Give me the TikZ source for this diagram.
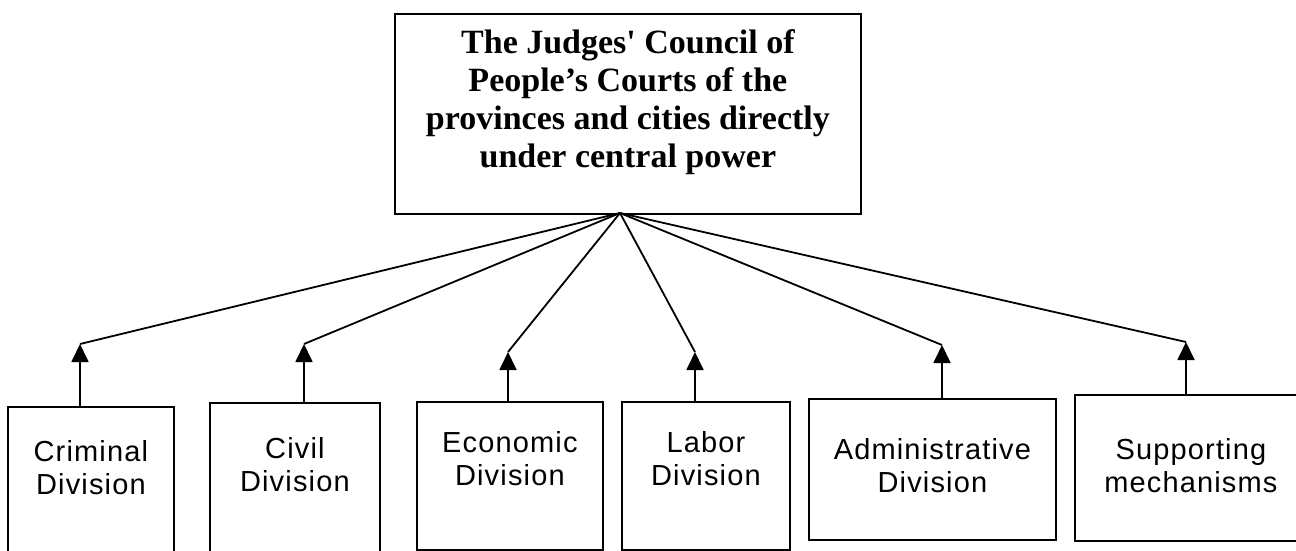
\documentclass[tikz,border=0pt]{standalone}
\usepackage{fontspec}
\setmainfont{Liberation Serif}
\newfontfamily\divfont[LetterSpace=4]{Liberation Sans}
\usetikzlibrary{arrows.meta,positioning}

\begin{document}
\begin{tikzpicture}
  [x=1pt,y=-1pt,line width=1.8pt,
   box/.style={draw,anchor=north west,inner sep=0pt},
   headtext/.style={font=\fontsize{34}{38}\selectfont\bfseries,align=center,inner sep=0pt},
   divtext/.style={font=\divfont\fontsize{29}{33}\selectfont,align=center,inner sep=0pt},
   up/.style={-{Triangle[length=18pt,width=17pt]}}]
  \useasboundingbox (0,0) rectangle (1296,551);

  % council on top
  \node[box,minimum width=466pt,minimum height=200pt] (council) at (394,13) {};
  \node[headtext,below=16pt of council.north] (title)
    {The Judges\textquotesingle{} Council of\\People’s Courts of the\\provinces and cities directly\\under central power};

  % divisions
  \node[box,minimum width=166pt,minimum height=160pt] (crim)  at (7,406)    {};
  \node[box,minimum width=170pt,minimum height=160pt] (civil) at (209,402)  {};
  \node[box,minimum width=186pt,minimum height=148pt] (econ)  at (416,401)  {};
  \node[box,minimum width=168pt,minimum height=148pt] (labor) at (621,401)  {};
  \node[box,minimum width=247pt,minimum height=141pt] (admin) at (808,398)  {};
  \node[box,minimum width=232pt,minimum height=146pt] (supp)  at (1074,394) {};

  \node[divtext,below=34pt of crim.north]  (crimtxt)  {Criminal\\Division};
  \node[divtext,below=35pt of civil.north] (civiltxt) {Civil\\Division};
  \node[divtext,below=30pt of econ.north]  (econtxt)  {Economic\\Division};
  \node[divtext,below=30pt of labor.north] (labortxt) {Labor\\Division};
  \node[divtext,below=40pt of admin.north] (admintxt) {Administrative\\Division};
  \node[divtext,below=44pt of supp.north]  (supptxt)  {Supporting\\mechanisms};

  \coordinate (hub) at (620,213);

  \foreach \b/\x/\y in {crim/80/344,civil/304/344,econ/508/352,labor/695/352,admin/942/345,supp/1186/342} {
    \coordinate (j\b) at (\x,\y);
    \draw[up] (j\b |- \b.north) -- (j\b);
    \draw (j\b) -- (hub);
  }

\end{tikzpicture}
\end{document}
